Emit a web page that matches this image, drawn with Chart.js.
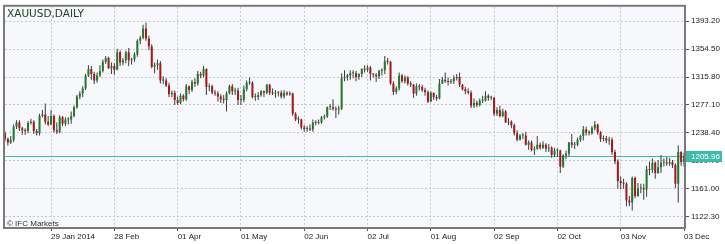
<!DOCTYPE html>
<html><head><meta charset="utf-8">
<script src="https://cdn.jsdelivr.net/npm/chart.js@4/dist/chart.umd.min.js"></script>
<style>
html,body{margin:0;padding:0;background:#fff;}
#wrap{position:relative;width:725px;height:244px;overflow:hidden;}
canvas{display:block;}
#title{position:absolute;left:7px;top:7px;font-family:"DejaVu Sans";font-size:10.5px;line-height:12px;color:#1e461e;white-space:nowrap;}
#wm{position:absolute;left:7px;top:219px;font-family:"Liberation Sans";font-size:8px;line-height:9px;color:#333;white-space:nowrap;}
</style></head><body>
<div id="wrap"><canvas id="c" width="725" height="244"></canvas>
<div id="title">XAUUSD,DAILY</div><div id="wm">© IFC Markets</div></div>
<script>
// ---- data (XAUUSD daily, 07 Jan 2014 – 03 Dec 2014, weekdays) ----
const firstDay = '2014-01-07';
const lastDay = '2014-12-03';
const opens = [
1238,1230,1225,1229,1247,1253,1245,1242,1241,1252,1254,1241,1238,1262,1264,1254,1250,1262,1242,1240,
1260,1251,1257,1257,1262,1274,1289,1293,1300,1318,1327,1320,1311,1318,1324,1337,1342,1328,1331,1326,
1350,1336,1339,1350,1339,1340,1347,1366,1370,1383,1369,1358,1330,1332,1335,1311,1311,1304,1292,1294,
1284,1280,1290,1285,1303,1298,1309,1307,1320,1318,1327,1302,1303,1294,1293,1289,1285,1284,1293,1303,
1296,1297,1284,1284,1299,1308,1308,1288,1288,1291,1296,1294,1305,1294,1293,1294,1294,1289,1294,1292,
1293,1265,1257,1257,1246,1244,1244,1243,1253,1252,1253,1260,1261,1274,1274,1272,1271,1272,1314,1316,
1318,1321,1321,1316,1320,1327,1326,1329,1320,1319,1317,1324,1325,1338,1337,1307,1295,1300,1318,1310,
1315,1307,1305,1293,1303,1302,1298,1295,1282,1294,1288,1286,1307,1312,1310,1309,1310,1314,1316,1305,
1299,1296,1294,1276,1280,1277,1283,1283,1290,1287,1287,1265,1270,1262,1268,1253,1254,1249,1238,1229,
1235,1235,1222,1225,1215,1216,1222,1218,1222,1217,1218,1208,1214,1214,1192,1207,1210,1225,1222,1222,
1229,1234,1243,1239,1238,1245,1250,1239,1230,1231,1228,1229,1212,1199,1172,1169,1168,1145,1142,1176,
1151,1162,1162,1160,1188,1187,1197,1183,1191,1197,1197,1196,1198,1194,1168,1212,1198];
const highs = [
1240,1232,1234,1250,1256,1256,1247,1245,1255,1258,1256,1244,1265,1270,1279,1262,1270,1264,1253,1263,
1262,1260,1260,1268,1276,1291,1296,1303,1320,1332,1331,1323,1322,1332,1340,1345,1344,1336,1335,1355,
1353,1342,1352,1356,1342,1350,1368,1373,1388,1391,1373,1361,1336,1340,1338,1317,1314,1308,1297,1297,
1289,1293,1292,1306,1304,1312,1314,1324,1323,1331,1328,1307,1305,1298,1296,1292,1291,1296,1305,1306,
1301,1301,1291,1304,1311,1315,1310,1293,1295,1298,1297,1306,1306,1300,1298,1296,1297,1298,1296,1296,
1294,1267,1261,1258,1249,1248,1250,1257,1256,1257,1262,1264,1275,1278,1285,1275,1276,1321,1325,1320,
1325,1325,1324,1321,1328,1332,1332,1331,1321,1321,1326,1328,1345,1342,1338,1310,1303,1322,1320,1318,
1317,1310,1306,1307,1306,1305,1301,1297,1296,1294,1291,1313,1316,1322,1315,1313,1318,1320,1322,1306,
1302,1300,1297,1286,1283,1286,1290,1296,1292,1290,1288,1274,1276,1272,1270,1259,1256,1251,1242,1237,
1238,1240,1228,1228,1220,1234,1225,1227,1224,1223,1220,1218,1217,1215,1209,1214,1226,1237,1226,1232,
1236,1248,1247,1242,1248,1255,1251,1241,1235,1234,1233,1232,1215,1202,1178,1175,1170,1151,1178,1178,
1169,1168,1168,1193,1199,1203,1199,1201,1208,1203,1205,1204,1201,1196,1221,1213,1211];
const lows = [
1227,1221,1223,1226,1244,1241,1236,1236,1238,1250,1237,1235,1235,1260,1250,1248,1249,1239,1237,1238,
1248,1248,1250,1251,1260,1272,1285,1288,1298,1316,1312,1306,1308,1316,1322,1334,1327,1320,1319,1325,
1331,1332,1335,1331,1333,1337,1344,1361,1368,1366,1353,1328,1321,1326,1307,1306,1302,1288,1288,1277,
1277,1278,1282,1283,1292,1295,1302,1304,1314,1315,1291,1296,1292,1290,1282,1280,1279,1268,1292,1291,
1291,1277,1277,1281,1296,1305,1286,1283,1284,1289,1288,1292,1291,1291,1287,1289,1286,1286,1290,1290,
1262,1255,1251,1243,1240,1240,1241,1240,1249,1250,1251,1257,1259,1270,1269,1259,1264,1270,1310,1311,
1312,1314,1310,1312,1316,1322,1323,1311,1315,1309,1313,1318,1320,1333,1305,1291,1292,1297,1308,1307,
1304,1302,1287,1290,1297,1295,1290,1280,1281,1284,1283,1285,1306,1308,1304,1306,1306,1311,1302,1297,
1292,1292,1273,1273,1274,1275,1280,1282,1283,1284,1262,1262,1260,1260,1252,1249,1245,1235,1227,1228,
1230,1221,1215,1213,1208,1215,1215,1216,1212,1212,1204,1205,1205,1183,1190,1202,1206,1218,1216,1220,
1226,1228,1235,1235,1236,1242,1236,1226,1227,1224,1222,1208,1195,1161,1160,1161,1137,1137,1131,1148,
1150,1155,1146,1150,1180,1183,1175,1182,1183,1192,1193,1193,1190,1162,1142,1193,1192];
const closes = [
1230,1225,1229,1247,1253,1245,1242,1241,1252,1254,1241,1238,1262,1264,1254,1250,1262,1242,1240,1260,
1251,1257,1257,1262,1274,1289,1293,1300,1318,1327,1320,1311,1318,1324,1337,1342,1328,1331,1326,1350,
1336,1339,1350,1339,1340,1347,1366,1370,1383,1369,1358,1330,1332,1335,1311,1311,1304,1292,1294,1284,
1280,1290,1285,1303,1298,1309,1307,1320,1318,1327,1302,1303,1294,1293,1289,1285,1284,1293,1303,1296,
1297,1284,1284,1299,1308,1308,1288,1288,1291,1296,1294,1305,1294,1293,1294,1294,1289,1294,1292,1293,
1265,1257,1257,1246,1244,1244,1243,1253,1252,1253,1260,1261,1274,1274,1272,1271,1272,1314,1316,1318,
1321,1321,1316,1320,1327,1326,1329,1320,1319,1317,1324,1325,1338,1337,1307,1295,1300,1318,1310,1315,
1307,1305,1293,1303,1302,1298,1295,1282,1294,1288,1286,1307,1312,1310,1309,1310,1314,1316,1305,1299,
1296,1294,1276,1280,1277,1283,1283,1290,1287,1287,1265,1270,1262,1268,1253,1254,1249,1238,1229,1235,
1235,1222,1225,1215,1216,1222,1218,1222,1217,1218,1208,1214,1214,1192,1207,1210,1225,1222,1222,1229,
1234,1243,1239,1238,1245,1250,1239,1230,1231,1228,1229,1212,1199,1172,1169,1168,1145,1142,1176,1151,
1162,1162,1160,1188,1187,1197,1183,1191,1197,1197,1196,1198,1194,1168,1212,1198,1205.96];
const lastPrice = 1205.96;
const xTickDates = ['2014-01-29','2014-02-28','2014-04-01','2014-05-01','2014-06-02','2014-07-02','2014-08-01','2014-09-02','2014-10-02','2014-11-03','2014-12-03'];
const xTickLabels = ['29 Jan 2014','28 Feb','01 Apr','01 May','02 Jun','02 Jul','01 Aug','02 Sep','02 Oct','03 Nov','03 Dec'];
const yTicks = [1122.30,1161.00,1199.70,1238.40,1277.10,1315.80,1354.50,1393.20];
const yMin = 1108.2, yMax = 1413.0;

// trading days (weekdays) between first and last day
const days = [];
for (let d = new Date(firstDay + 'T00:00:00Z'); d <= new Date(lastDay + 'T00:00:00Z'); d.setUTCDate(d.getUTCDate() + 1)) {
  const w = d.getUTCDay();
  if (w === 0 || w === 6) continue;
  days.push(d.toISOString().slice(0, 10));
}

const BULL = '#23782a', BEAR = '#a3191b', WICK = '#3b3b3b';
const bodyColors = closes.map((c, i) => c >= opens[i] ? BULL : BEAR);

const AXIS_FONT = {family: 'Liberation Sans', size: 8};

const deco = {
  id: 'deco',
  beforeDraw(chart) {
    const {ctx, chartArea: a} = chart;
    ctx.save();
    ctx.fillStyle = '#f7f8fc';
    ctx.fillRect(a.left, a.top, a.right - a.left, a.bottom - a.top);
    ctx.restore();
  },
  beforeDatasetsDraw(chart) {
    const {ctx, chartArea: a, scales: {y}} = chart;
    const py = Math.round(y.getPixelForValue(lastPrice)) + 0.5;
    ctx.save();
    ctx.strokeStyle = '#3dbcae';
    ctx.lineWidth = 1;
    ctx.beginPath(); ctx.moveTo(a.left, py); ctx.lineTo(a.right, py); ctx.stroke();
    ctx.restore();
  },
  afterDraw(chart) {
    const {ctx, chartArea: a, scales: {y}} = chart;
    ctx.save();
    ctx.strokeStyle = '#7a7a7a';
    ctx.lineWidth = 2;
    ctx.strokeRect(a.left - 1, a.top - 1, a.right - a.left + 2, a.bottom - a.top + 2);
    const py = Math.round(y.getPixelForValue(lastPrice));
    ctx.fillStyle = '#3dbcae';
    ctx.fillRect(a.right + 2, py - 5, 36, 11);
    ctx.fillStyle = '#ffffff';
    ctx.font = '8px "Liberation Sans"';
    ctx.textBaseline = 'middle';
    ctx.textAlign = 'left';
    ctx.fillText(lastPrice.toFixed(2), a.right + 7, py + 0.5);
    ctx.restore();
  }
};

new Chart(document.getElementById('c'), {
  type: 'bar',
  data: {
    labels: days,
    datasets: [
      {
        label: 'body',
        data: opens.map((o, i) => [o, closes[i]]),
        backgroundColor: bodyColors,
        borderWidth: 0,
        barThickness: 2,
        minBarLength: 1,
        grouped: false,
        inflateAmount: 0
      },
      {
        label: 'wick',
        data: lows.map((l, i) => [l, highs[i]]),
        backgroundColor: WICK,
        borderWidth: 0,
        barThickness: 1,
        grouped: false,
        inflateAmount: 0
      }
    ]
  },
  options: {
    responsive: false,
    animation: false,
    events: [],
    layout: {padding: {left: 5, top: 5, right: 0, bottom: 0}},
    plugins: {legend: {display: false}, tooltip: {enabled: false}, title: {display: false}},
    scales: {
      x: {
        type: 'category',
        offset: false,
        afterBuildTicks: s => { s.ticks = xTickDates.map(d => ({value: days.indexOf(d)})); },
        afterFit: s => { s.height = 17; },
        grid: {color: '#c8c8c8', offset: false, tickLength: 4, tickColor: '#555', tickWidth: 1},
        border: {display: false, dash: [2, 2]},
        ticks: {autoSkip: false, maxRotation: 0, minRotation: 0, align: 'start', padding: 1,
                color: '#222', font: AXIS_FONT, callback: (v, i) => xTickLabels[i]}
      },
      y: {
        position: 'right',
        min: yMin, max: yMax,
        afterBuildTicks: s => { s.ticks = yTicks.map(v => ({value: v})); },
        afterFit: s => { s.width = 41; },
        grid: {color: '#c8c8c8', tickLength: 5, tickColor: '#555', tickWidth: 1},
        border: {display: false, dash: [2, 2]},
        ticks: {padding: 2, color: '#222', font: AXIS_FONT, callback: v => Number(v).toFixed(2)}
      }
    }
  },
  plugins: [deco]
});
</script>
</body></html>
